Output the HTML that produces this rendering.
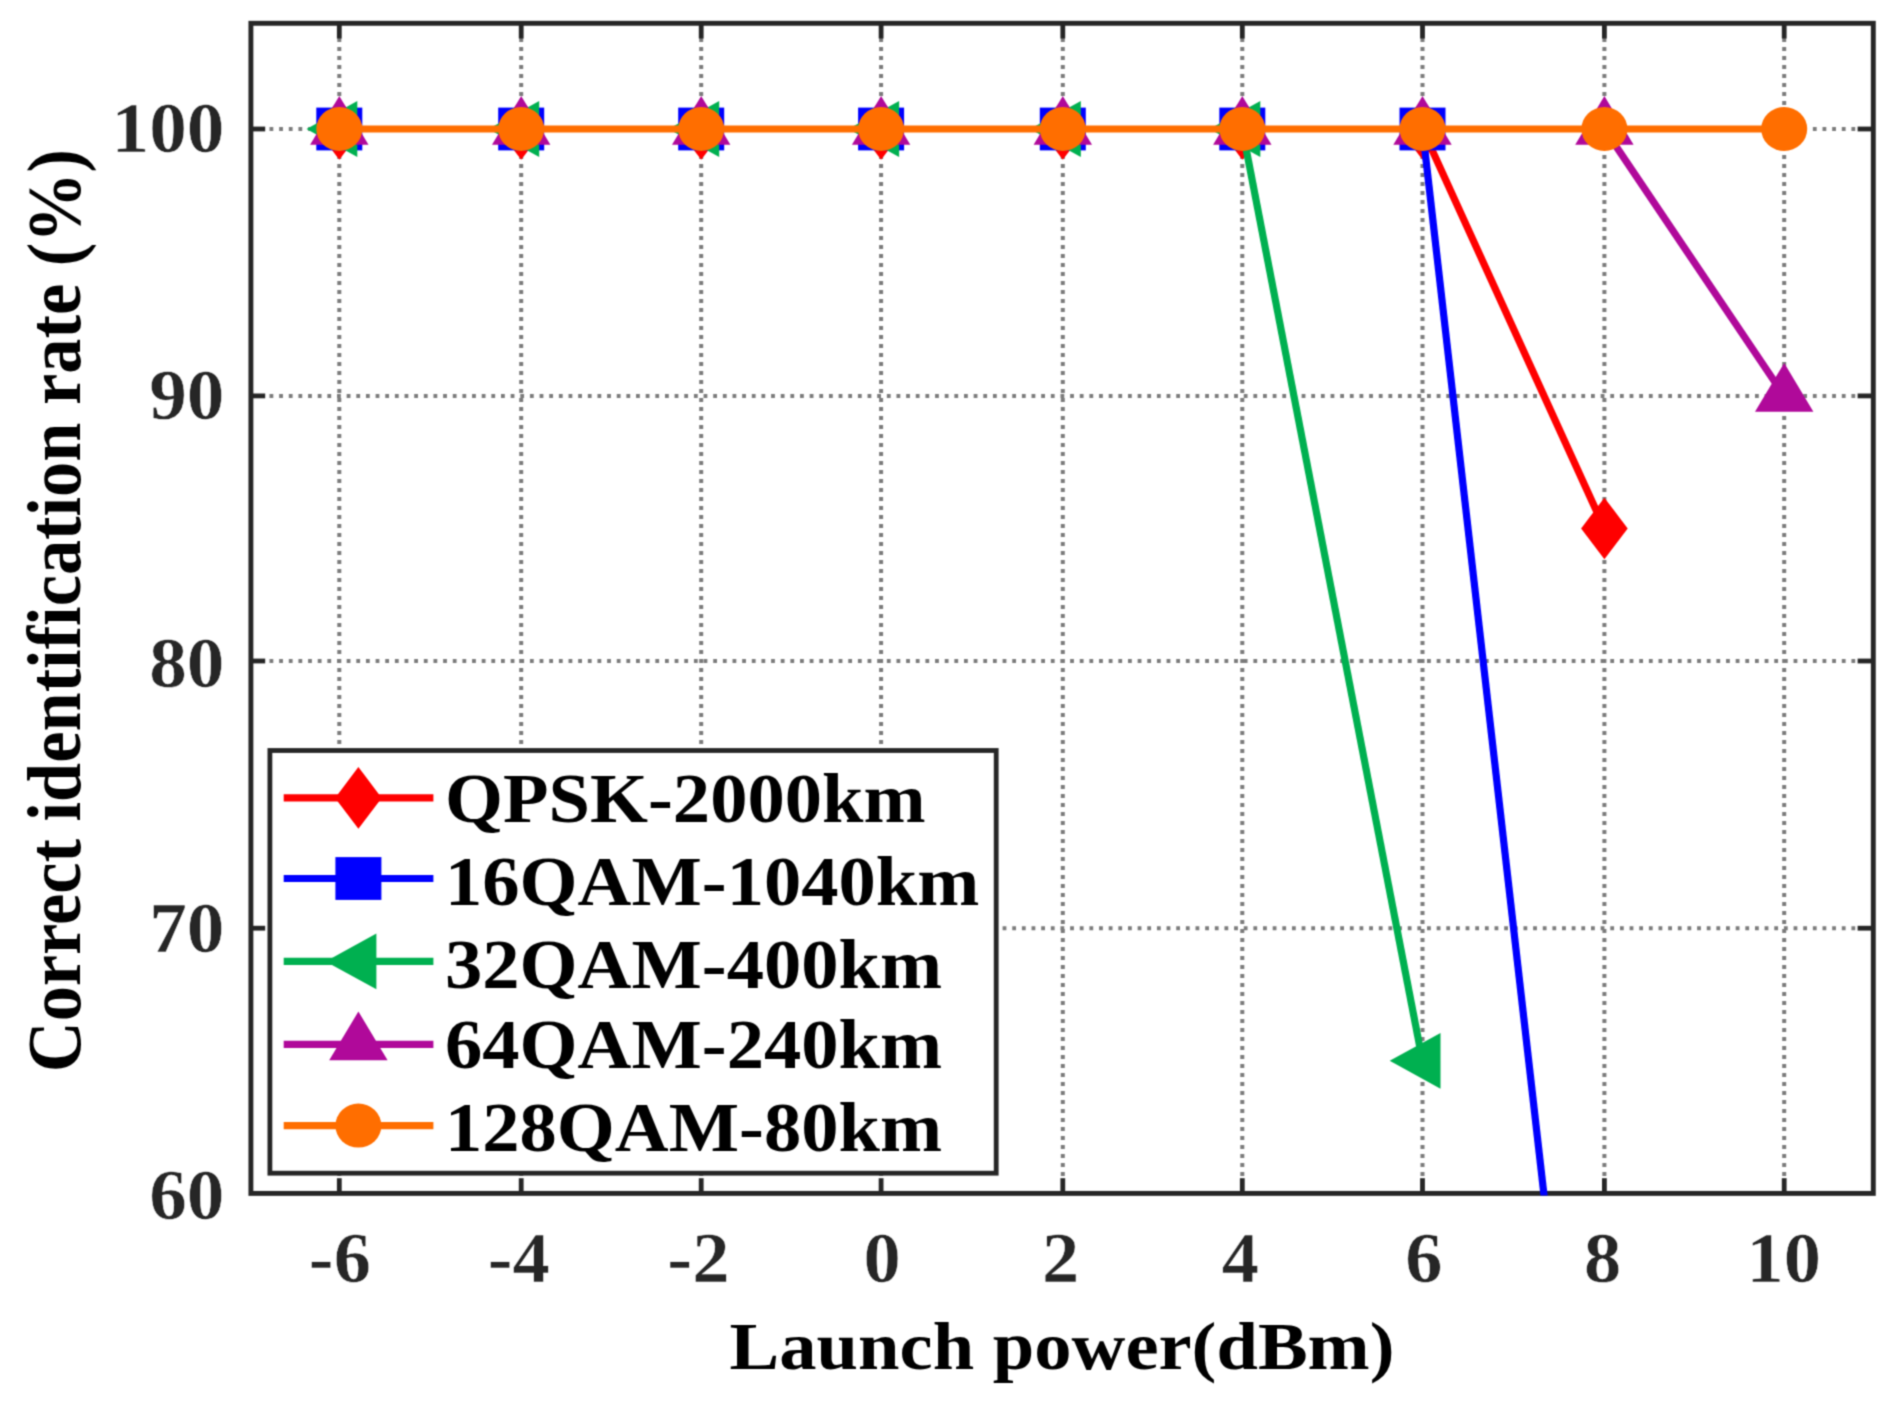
<!DOCTYPE html>
<html lang="en"><head><meta charset="utf-8"><title>Correct identification rate vs launch power</title>
<style>html,body{margin:0;padding:0;background:#fff;overflow:hidden}svg{display:block}text{font-family:"Liberation Serif","Times New Roman",serif;font-weight:bold}</style>
</head><body>
<svg width="1900" height="1407" viewBox="0 0 1900 1407">
<defs><filter id="soft" color-interpolation-filters="sRGB" filterUnits="userSpaceOnUse" x="0" y="0" width="1900" height="1407"><feConvolveMatrix order="3" kernelMatrix="1 3 1 3 9 3 1 3 1" divisor="25" edgeMode="duplicate" preserveAlpha="false"/></filter></defs>
<g filter="url(#soft)">
<rect x="0" y="0" width="1900" height="1407" fill="#fff"/>
<g stroke="#7c7c7c" stroke-width="4" fill="none">
<line x1="339.30" y1="38.10" x2="339.30" y2="1179.20" stroke-dasharray="3.8 5.2"/>
<line x1="521.20" y1="38.10" x2="521.20" y2="1179.20" stroke-dasharray="3.8 5.2"/>
<line x1="701.20" y1="38.10" x2="701.20" y2="1179.20" stroke-dasharray="3.8 5.2"/>
<line x1="881.10" y1="38.10" x2="881.10" y2="1179.20" stroke-dasharray="3.8 5.2"/>
<line x1="1062.80" y1="38.10" x2="1062.80" y2="1179.20" stroke-dasharray="3.8 5.2"/>
<line x1="1242.30" y1="38.10" x2="1242.30" y2="1179.20" stroke-dasharray="3.8 5.2"/>
<line x1="1422.50" y1="38.10" x2="1422.50" y2="1179.20" stroke-dasharray="3.8 5.2"/>
<line x1="1604.40" y1="38.10" x2="1604.40" y2="1179.20" stroke-dasharray="3.8 5.2"/>
<line x1="1784.20" y1="38.10" x2="1784.20" y2="1179.20" stroke-dasharray="3.8 5.2"/>
<line x1="269.50" y1="129.00" x2="1859.10" y2="129.00" stroke-dasharray="3.8 5.846"/>
<line x1="269.50" y1="395.90" x2="1859.10" y2="395.90" stroke-dasharray="3.8 5.846"/>
<line x1="269.50" y1="661.00" x2="1859.10" y2="661.00" stroke-dasharray="3.8 5.846"/>
<line x1="269.50" y1="928.20" x2="1859.10" y2="928.20" stroke-dasharray="3.8 5.846"/>
</g>
<g stroke="#262626" stroke-width="4.8" fill="none">
<line x1="339.30" y1="23.30" x2="339.30" y2="38.50"/>
<line x1="339.30" y1="1193.40" x2="339.30" y2="1178.20"/>
<line x1="521.20" y1="23.30" x2="521.20" y2="38.50"/>
<line x1="521.20" y1="1193.40" x2="521.20" y2="1178.20"/>
<line x1="701.20" y1="23.30" x2="701.20" y2="38.50"/>
<line x1="701.20" y1="1193.40" x2="701.20" y2="1178.20"/>
<line x1="881.10" y1="23.30" x2="881.10" y2="38.50"/>
<line x1="881.10" y1="1193.40" x2="881.10" y2="1178.20"/>
<line x1="1062.80" y1="23.30" x2="1062.80" y2="38.50"/>
<line x1="1062.80" y1="1193.40" x2="1062.80" y2="1178.20"/>
<line x1="1242.30" y1="23.30" x2="1242.30" y2="38.50"/>
<line x1="1242.30" y1="1193.40" x2="1242.30" y2="1178.20"/>
<line x1="1422.50" y1="23.30" x2="1422.50" y2="38.50"/>
<line x1="1422.50" y1="1193.40" x2="1422.50" y2="1178.20"/>
<line x1="1604.40" y1="23.30" x2="1604.40" y2="38.50"/>
<line x1="1604.40" y1="1193.40" x2="1604.40" y2="1178.20"/>
<line x1="1784.20" y1="23.30" x2="1784.20" y2="38.50"/>
<line x1="1784.20" y1="1193.40" x2="1784.20" y2="1178.20"/>
<line x1="250.90" y1="129.00" x2="265.20" y2="129.00"/>
<line x1="1873.30" y1="129.00" x2="1857.60" y2="129.00"/>
<line x1="250.90" y1="395.90" x2="265.20" y2="395.90"/>
<line x1="1873.30" y1="395.90" x2="1857.60" y2="395.90"/>
<line x1="250.90" y1="661.00" x2="265.20" y2="661.00"/>
<line x1="1873.30" y1="661.00" x2="1857.60" y2="661.00"/>
<line x1="250.90" y1="928.20" x2="265.20" y2="928.20"/>
<line x1="1873.30" y1="928.20" x2="1857.60" y2="928.20"/>
</g>
<rect x="250.9" y="23.3" width="1622.3999999999999" height="1170.1000000000001" fill="none" stroke="#262626" stroke-width="4.9"/>
<clipPath id="c"><rect x="250.9" y="23.3" width="1622.3999999999999" height="1172.3000000000002"/></clipPath>
<g clip-path="url(#c)">
<polyline points="1422.50,129.00 1604.40,528.45" fill="none" stroke="#ff0000" stroke-width="7.2" stroke-linejoin="round"/>
<polygon points="339.30,98.20 362.60,129.00 339.30,159.80 316.00,129.00" fill="#ff0000"/>
<polygon points="521.20,98.20 544.50,129.00 521.20,159.80 497.90,129.00" fill="#ff0000"/>
<polygon points="701.20,98.20 724.50,129.00 701.20,159.80 677.90,129.00" fill="#ff0000"/>
<polygon points="881.10,98.20 904.40,129.00 881.10,159.80 857.80,129.00" fill="#ff0000"/>
<polygon points="1062.80,98.20 1086.10,129.00 1062.80,159.80 1039.50,129.00" fill="#ff0000"/>
<polygon points="1242.30,98.20 1265.60,129.00 1242.30,159.80 1219.00,129.00" fill="#ff0000"/>
<polygon points="1422.50,98.20 1445.80,129.00 1422.50,159.80 1399.20,129.00" fill="#ff0000"/>
<polygon points="1604.40,497.65 1627.70,528.45 1604.40,559.25 1581.10,528.45" fill="#ff0000"/>
<polyline points="1422.50,129.00 1604.40,1725.10" fill="none" stroke="#0000ff" stroke-width="7.2" stroke-linejoin="round"/>
<rect x="316.30" y="107.60" width="46" height="42.8" fill="#0000ff"/>
<rect x="498.20" y="107.60" width="46" height="42.8" fill="#0000ff"/>
<rect x="678.20" y="107.60" width="46" height="42.8" fill="#0000ff"/>
<rect x="858.10" y="107.60" width="46" height="42.8" fill="#0000ff"/>
<rect x="1039.80" y="107.60" width="46" height="42.8" fill="#0000ff"/>
<rect x="1219.30" y="107.60" width="46" height="42.8" fill="#0000ff"/>
<rect x="1399.50" y="107.60" width="46" height="42.8" fill="#0000ff"/>
<rect x="1581.40" y="1703.70" width="46" height="42.8" fill="#0000ff"/>
<polyline points="1242.30,129.00 1422.50,1060.85" fill="none" stroke="#00b050" stroke-width="7.2" stroke-linejoin="round"/>
<polygon points="306.50,129.00 357.30,101.10 357.30,156.90" fill="#00b050"/>
<polygon points="488.40,129.00 539.20,101.10 539.20,156.90" fill="#00b050"/>
<polygon points="668.40,129.00 719.20,101.10 719.20,156.90" fill="#00b050"/>
<polygon points="848.30,129.00 899.10,101.10 899.10,156.90" fill="#00b050"/>
<polygon points="1030.00,129.00 1080.80,101.10 1080.80,156.90" fill="#00b050"/>
<polygon points="1209.50,129.00 1260.30,101.10 1260.30,156.90" fill="#00b050"/>
<polygon points="1389.70,1060.85 1440.50,1032.95 1440.50,1088.75" fill="#00b050"/>
<polyline points="1604.40,129.00 1784.20,395.90" fill="none" stroke="#b0099a" stroke-width="7.2" stroke-linejoin="round"/>
<polygon points="339.30,96.10 368.50,144.80 310.10,144.80" fill="#b0099a"/>
<polygon points="521.20,96.10 550.40,144.80 492.00,144.80" fill="#b0099a"/>
<polygon points="701.20,96.10 730.40,144.80 672.00,144.80" fill="#b0099a"/>
<polygon points="881.10,96.10 910.30,144.80 851.90,144.80" fill="#b0099a"/>
<polygon points="1062.80,96.10 1092.00,144.80 1033.60,144.80" fill="#b0099a"/>
<polygon points="1242.30,96.10 1271.50,144.80 1213.10,144.80" fill="#b0099a"/>
<polygon points="1422.50,96.10 1451.70,144.80 1393.30,144.80" fill="#b0099a"/>
<polygon points="1604.40,96.10 1633.60,144.80 1575.20,144.80" fill="#b0099a"/>
<polygon points="1784.20,363.00 1813.40,411.70 1755.00,411.70" fill="#b0099a"/>
<polyline points="339.30,129.00 521.20,129.00 701.20,129.00 881.10,129.00 1062.80,129.00 1242.30,129.00 1422.50,129.00 1604.40,129.00 1784.20,129.00" fill="none" stroke="#ff6e00" stroke-width="7.2" stroke-linejoin="round"/>
<ellipse cx="339.30" cy="129.00" rx="23" ry="22" fill="#ff6e00"/>
<ellipse cx="521.20" cy="129.00" rx="23" ry="22" fill="#ff6e00"/>
<ellipse cx="701.20" cy="129.00" rx="23" ry="22" fill="#ff6e00"/>
<ellipse cx="881.10" cy="129.00" rx="23" ry="22" fill="#ff6e00"/>
<ellipse cx="1062.80" cy="129.00" rx="23" ry="22" fill="#ff6e00"/>
<ellipse cx="1242.30" cy="129.00" rx="23" ry="22" fill="#ff6e00"/>
<ellipse cx="1422.50" cy="129.00" rx="23" ry="22" fill="#ff6e00"/>
<ellipse cx="1604.40" cy="129.00" rx="23" ry="22" fill="#ff6e00"/>
<ellipse cx="1784.20" cy="129.00" rx="23" ry="22" fill="#ff6e00"/>
</g>
<rect x="269.9" y="750.5" width="726.3000000000001" height="422.70000000000005" fill="#fff" stroke="#262626" stroke-width="4.8"/>
<line x1="283.7" y1="797.9" x2="433.4" y2="797.9" stroke="#ff0000" stroke-width="7.2"/>
<polygon points="358.40,767.10 381.70,797.90 358.40,828.70 335.10,797.90" fill="#ff0000"/>
<line x1="283.7" y1="878.5" x2="433.4" y2="878.5" stroke="#0000ff" stroke-width="7.2"/>
<rect x="335.40" y="857.10" width="46" height="42.8" fill="#0000ff"/>
<line x1="283.7" y1="961.4" x2="433.4" y2="961.4" stroke="#00b050" stroke-width="7.2"/>
<polygon points="325.60,961.40 376.40,933.50 376.40,989.30" fill="#00b050"/>
<line x1="283.7" y1="1044.4" x2="433.4" y2="1044.4" stroke="#b0099a" stroke-width="7.2"/>
<polygon points="358.40,1011.50 387.60,1060.20 329.20,1060.20" fill="#b0099a"/>
<line x1="283.7" y1="1125.6" x2="433.4" y2="1125.6" stroke="#ff6e00" stroke-width="7.2"/>
<ellipse cx="358.40" cy="1125.60" rx="23" ry="22" fill="#ff6e00"/>
<text transform="translate(224.40,151.80) scale(1.0450,1.0000)" font-size="72" fill="#262626" stroke="#fff" stroke-width="0.5" paint-order="fill stroke" text-anchor="end">100</text>
<text transform="translate(224.40,419.10) scale(1.0450,1.0000)" font-size="72" fill="#262626" stroke="#fff" stroke-width="0.5" paint-order="fill stroke" text-anchor="end">90</text>
<text transform="translate(224.40,687.00) scale(1.0450,1.0000)" font-size="72" fill="#262626" stroke="#fff" stroke-width="0.5" paint-order="fill stroke" text-anchor="end">80</text>
<text transform="translate(224.40,951.70) scale(1.0450,1.0000)" font-size="72" fill="#262626" stroke="#fff" stroke-width="0.5" paint-order="fill stroke" text-anchor="end">70</text>
<text transform="translate(224.40,1219.40) scale(1.0450,1.0000)" font-size="72" fill="#262626" stroke="#fff" stroke-width="0.5" paint-order="fill stroke" text-anchor="end">60</text>
<text transform="translate(339.90,1281.90) scale(1.0350,1.0000)" font-size="72" fill="#262626" stroke="#fff" stroke-width="0.5" paint-order="fill stroke" text-anchor="middle">-6</text>
<text transform="translate(518.80,1281.90) scale(1.0350,1.0000)" font-size="72" fill="#262626" stroke="#fff" stroke-width="0.5" paint-order="fill stroke" text-anchor="middle">-4</text>
<text transform="translate(698.40,1281.90) scale(1.0350,1.0000)" font-size="72" fill="#262626" stroke="#fff" stroke-width="0.5" paint-order="fill stroke" text-anchor="middle">-2</text>
<text transform="translate(882.00,1281.90) scale(1.0350,1.0000)" font-size="72" fill="#262626" stroke="#fff" stroke-width="0.5" paint-order="fill stroke" text-anchor="middle">0</text>
<text transform="translate(1060.70,1281.90) scale(1.0350,1.0000)" font-size="72" fill="#262626" stroke="#fff" stroke-width="0.5" paint-order="fill stroke" text-anchor="middle">2</text>
<text transform="translate(1240.30,1281.90) scale(1.0350,1.0000)" font-size="72" fill="#262626" stroke="#fff" stroke-width="0.5" paint-order="fill stroke" text-anchor="middle">4</text>
<text transform="translate(1423.80,1281.90) scale(1.0350,1.0000)" font-size="72" fill="#262626" stroke="#fff" stroke-width="0.5" paint-order="fill stroke" text-anchor="middle">6</text>
<text transform="translate(1602.70,1281.90) scale(1.0350,1.0000)" font-size="72" fill="#262626" stroke="#fff" stroke-width="0.5" paint-order="fill stroke" text-anchor="middle">8</text>
<text transform="translate(1783.80,1281.90) scale(1.0350,1.0000)" font-size="72" fill="#262626" stroke="#fff" stroke-width="0.5" paint-order="fill stroke" text-anchor="middle">10</text>
<text transform="translate(445.00,822.00) scale(1.0730,1.0000)" font-size="69.5" fill="#000000" text-anchor="start">QPSK-2000km</text>
<text transform="translate(445.00,904.50) scale(1.0730,1.0000)" font-size="69.5" fill="#000000" text-anchor="start">16QAM-1040km</text>
<text transform="translate(445.00,987.80) scale(1.0730,1.0000)" font-size="69.5" fill="#000000" text-anchor="start">32QAM-400km</text>
<text transform="translate(445.00,1068.20) scale(1.0730,1.0000)" font-size="69.5" fill="#000000" text-anchor="start">64QAM-240km</text>
<text transform="translate(445.00,1150.80) scale(1.0730,1.0000)" font-size="69.5" fill="#000000" text-anchor="start">128QAM-80km</text>
<text transform="translate(729.60,1369.30) scale(1.0966,1.0000)" font-size="68.0" fill="#000000" text-anchor="start">Launch power(dBm)</text>
<text transform="translate(80.00,1072.20) rotate(-90) scale(1.0000,1.0870)" font-size="70.4" fill="#000000" text-anchor="start">Correct identification rate (%)</text>
</g>
</svg>
</body></html>
